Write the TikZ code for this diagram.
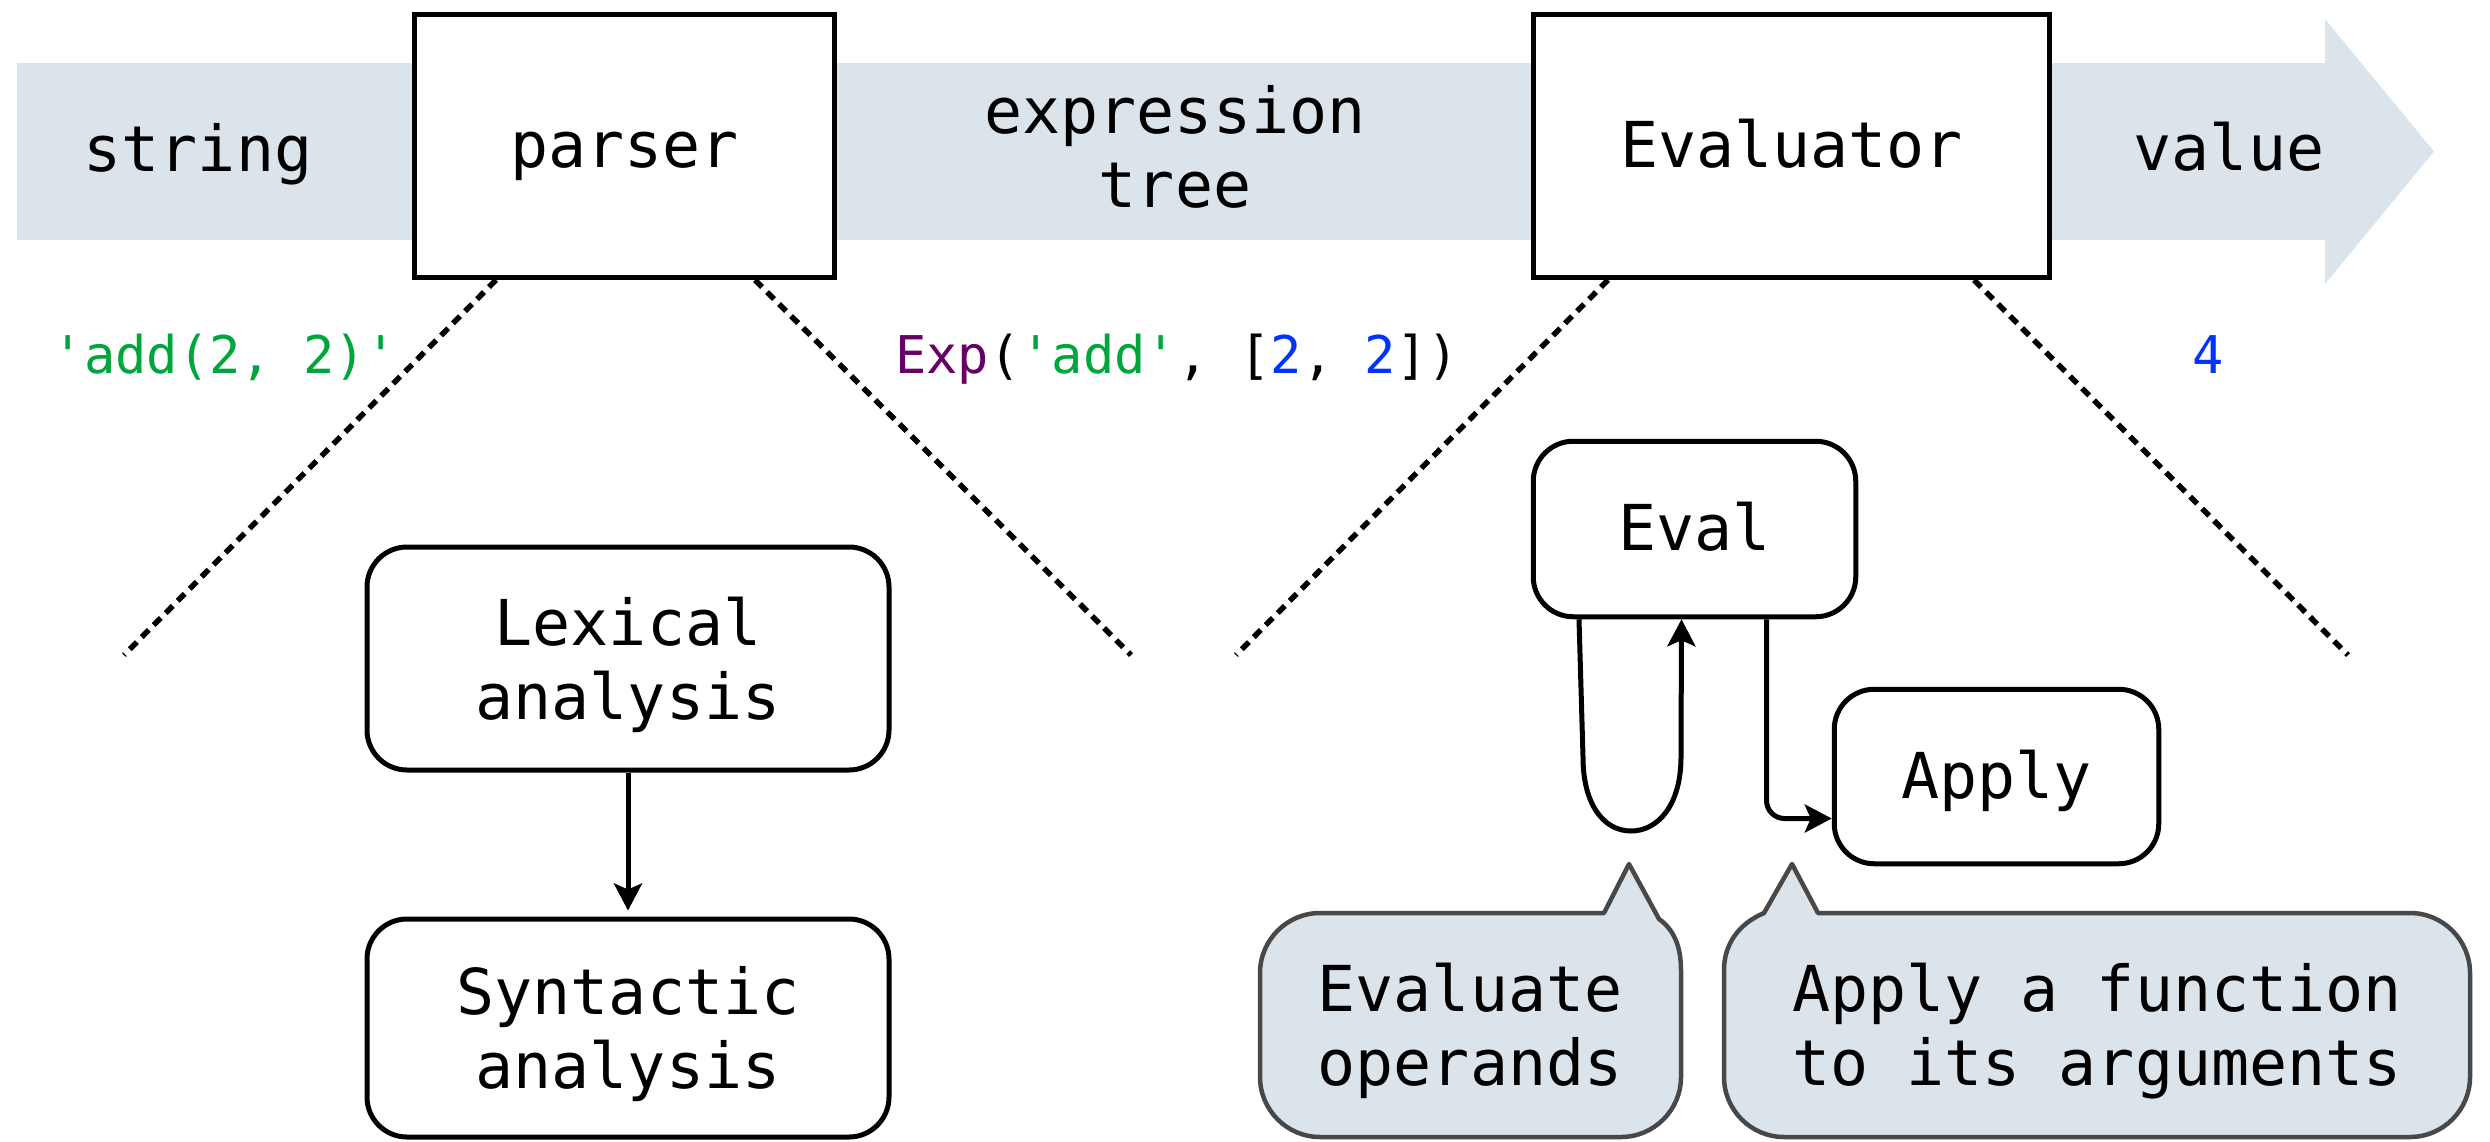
\documentclass[tikz,border=0pt]{standalone}
\usepackage{fontspec}
\newfontfamily\monofont{DejaVu Sans Mono}
\usetikzlibrary{arrows.meta}
\definecolor{bandblue}{RGB}{220,228,235}
\definecolor{codegreen}{RGB}{0,166,60}
\definecolor{codepurple}{RGB}{102,0,102}
\definecolor{codeblue}{RGB}{0,51,255}
\definecolor{calloutedge}{RGB}{72,72,72}
\newcommand{\bigtext}{\monofont\fontsize{63.3}{74}\selectfont}
\newcommand{\codetext}{\monofont\fontsize{52}{62}\selectfont}
\newcommand{\twoline}[2]{\begin{tabular}[t]{@{}c@{}}#1\\#2\end{tabular}}
\tikzset{
  stage/.style={draw, line width=5pt, fill=white, minimum width=420pt, minimum height=263pt,
    inner sep=0pt, font=\bigtext, text height=46pt, text depth=3pt},
  rbox/.style={draw, line width=5pt, fill=white, rounded corners=40pt, inner sep=0pt,
    font=\bigtext},
  oneline/.style={text height=46pt, text depth=3pt},
  twolines/.style={text height=46pt, text depth=73pt},
  lbl/.style={font=\bigtext, anchor=base, inner sep=0pt},
  code/.style={font=\codetext, anchor=base, inner sep=0pt},
  zoomline/.style={line width=5.5pt, dash pattern=on 10pt off 7pt},
  conn/.style={line width=5pt, -{Stealth[length=27pt,width=28pt,inset=6pt]}},
  callout/.style={fill=bandblue, draw=calloutedge, line width=4.5pt, line join=round}
}
\begin{document}
\begin{tikzpicture}[x=1pt,y=-1pt]
\useasboundingbox (0,0) rectangle (2490,1141);
% pipeline band
\fill[bandblue] (17,63) -- (2325,63) -- (2325,19) -- (2434,151.5) -- (2325,284) -- (2325,240) -- (17,240) -- cycle;
% stages
\node[stage] (parser) at (624.5,146) {parser};
\node[stage, minimum width=516pt] (evaluator) at (1791.5,146) {Evaluator};
% band labels
\node[lbl] (string) at (198,171) {string};
\node[lbl] (exprtree) at (1175,133) {\twoline{expression}{tree}};
\node[lbl] (value) at (2229,170) {value};
% code labels
\node[code] (strcode) at (225,373) {\textcolor{codegreen}{\textquotesingle add(2, 2)\textquotesingle}};
\node[code] (exprcode) at (1177,373) {\textcolor{codepurple}{Exp}(\textcolor{codegreen}{\textquotesingle add\textquotesingle}, [\textcolor{codeblue}{2}, \textcolor{codeblue}{2}])};
\node[code] (valcode) at (2208,373) {\textcolor{codeblue}{4}};
% zoom lines
\coordinate (pl) at (124,655);
\coordinate (pr) at (1131,655);
\coordinate (el) at (1236,655);
\coordinate (er) at (2348,655);
\draw[zoomline] ([xshift=-128.5pt]parser.south) -- (pl);
\draw[zoomline] ([xshift=130.5pt]parser.south) -- (pr);
\draw[zoomline] ([xshift=-183.5pt]evaluator.south) -- (el);
\draw[zoomline] ([xshift=182.5pt]evaluator.south) -- (er);
% parser internals
\node[rbox, twolines, minimum width=522pt, minimum height=223pt] (lex) at (628,658.5) {\twoline{Lexical}{analysis}};
\node[rbox, twolines, minimum width=522pt, minimum height=218pt] (syn) at (628,1028) {\twoline{Syntactic}{analysis}};
\draw[conn, shorten >=6pt] (lex) -- (syn);
% evaluator internals
\node[rbox, oneline, minimum width=322.5pt, minimum height=175.5pt] (eval) at (1694.5,529) {Eval};
\node[rbox, oneline, minimum width=324.5pt, minimum height=174.5pt] (apply) at (1996.5,776.5) {Apply};
\draw[conn] ([xshift=-115.5pt]eval.south) -- (1583,757) .. controls (1583,805) and (1604,831) .. (1631,831) .. controls (1658,831) and (1681,805) .. (1681,757) -- ([xshift=-13pt]eval.south);
\draw[conn, rounded corners=18pt] ([xshift=72pt]eval.south) |- ([yshift=-42pt]apply.west);
% callouts
\draw[callout] (1604,913) -- (1629,864) -- (1659,919) .. controls (1673,929) and (1681,945) .. (1681,970) -- (1681,1077) .. controls (1681,1110) and (1654,1137) .. (1621,1137) -- (1320,1137) .. controls (1287,1137) and (1260,1110) .. (1260,1077) -- (1260,973) .. controls (1260,940) and (1287,913) .. (1320,913) -- cycle;
\draw[callout] (1818,913) -- (2410,913) .. controls (2443,913) and (2470,940) .. (2470,973) -- (2470,1077) .. controls (2470,1110) and (2443,1137) .. (2410,1137) -- (1784,1137) .. controls (1751,1137) and (1724,1110) .. (1724,1077) -- (1724,970) .. controls (1724,945) and (1738,924) .. (1764,913) -- (1792,864) -- cycle;
\node[lbl] (evalops) at (1470,1011) {\twoline{Evaluate}{operands}};
\node[lbl] (applyfn) at (2097,1011) {\twoline{Apply a function}{to its arguments}};
\end{tikzpicture}
\end{document}
